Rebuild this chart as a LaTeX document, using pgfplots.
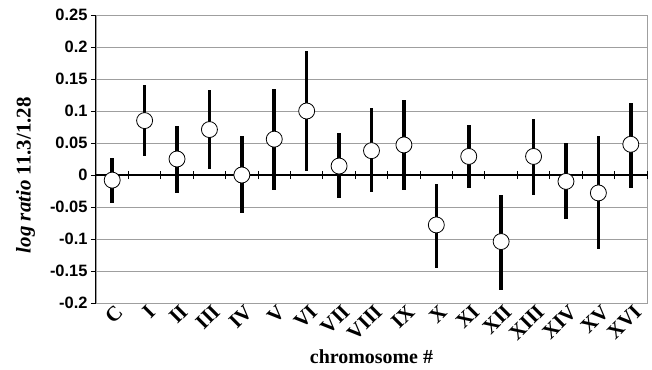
\documentclass[border=0pt]{standalone}
\usepackage{fontspec}
\setmainfont{Liberation Serif}
\setsansfont{Liberation Sans}
\usepackage{pgfplots}
\usepackage{pgfplotstable}
\pgfplotsset{compat=1.18}

\pgfplotstableread{
x y hi lo
0 -0.008 0.027 -0.044
1 0.085 0.141 0.029
2 0.025 0.077 -0.028
3 0.071 0.133 0.010
4 0.000 0.061 -0.060
5 0.056 0.135 -0.023
6 0.100 0.194 0.007
7 0.014 0.065 -0.036
8 0.038 0.104 -0.026
9 0.047 0.117 -0.023
10 -0.078 -0.014 -0.146
11 0.029 0.078 -0.021
12 -0.104 -0.031 -0.179
13 0.029 0.087 -0.031
14 -0.010 0.050 -0.069
15 -0.028 0.061 -0.116
16 0.048 0.113 -0.021
}\datatable

\begin{document}
\begin{tikzpicture}
\begin{axis}[
  scale only axis,
  width=551bp, height=288bp,
  xmin=-0.5, xmax=16.5,
  ymin=-0.2, ymax=0.25,
  xtick={0,...,16},
  xticklabels={C,I,II,III,IV,V,VI,VII,VIII,IX,X,XI,XII,XIII,XIV,XV,XVI},
  x tick style={draw=none},
  xticklabel style={rotate=45, anchor=north east, font=\rmfamily\bfseries\fontsize{21}{21}\selectfont, xshift=8bp, yshift=5bp},
  ytick={-0.2,-0.15,-0.1,-0.05,0,0.05,0.1,0.15,0.2,0.25},
  yticklabels={-0.2,-0.15,-0.1,-0.05,0,0.05,0.1,0.15,0.2,0.25},
  yticklabel style={font=\sffamily\bfseries\fontsize{16.5}{16.5}\selectfont},
  ytick pos=left,
  tick align=outside,
  major tick length=5bp,
  y tick style={black, line width=0.8bp},
  ymajorgrids,
  grid style={gray!75, line width=0.8bp},
  axis line style={gray!75, line width=0.8bp},
  xlabel={chromosome \#},
  xlabel style={font=\rmfamily\bfseries\fontsize{20}{20}\selectfont, yshift=0bp},
  ylabel={\textit{log ratio} 11.3/1.28},
  ylabel style={font=\rmfamily\bfseries\fontsize{21}{21}\selectfont, at={(ticklabel cs:0.444)}, yshift=8bp},
  clip=false,
]
\coordinate (ll) at (rel axis cs:0,0);
\coordinate (ur) at (rel axis cs:1,1);
\draw[black, line width=1bp] (rel axis cs:0,0) -- (rel axis cs:0,1);
\draw[black, line width=1.4bp] (axis cs:-0.5,0) -- (axis cs:16.5,0);
\pgfplotsinvokeforeach{-0.5,0.5,...,16.5}{
  \draw[black, line width=1bp] ([yshift=-4bp]axis cs:#1,0) -- ([yshift=4bp]axis cs:#1,0);
}
\addplot[draw=none, mark=none,
  error bars/.cd, y dir=both, y explicit,
  error mark=none,
  error bar style={line width=3.6bp, black}]
  table[x=x, y=y, y error plus expr=\thisrow{hi}-\thisrow{y}, y error minus expr=\thisrow{y}-\thisrow{lo}] {\datatable};
\addplot[only marks, mark=*, mark size=8bp,
  mark options={fill=white, draw=black, line width=0.8bp}]
  table[x=x, y=y] {\datatable};
\end{axis}
\pgfresetboundingbox
\path ([shift={(-96bp,-67bp)}]ll) rectangle ([shift={(5bp,15bp)}]ur);
\end{tikzpicture}
\end{document}
